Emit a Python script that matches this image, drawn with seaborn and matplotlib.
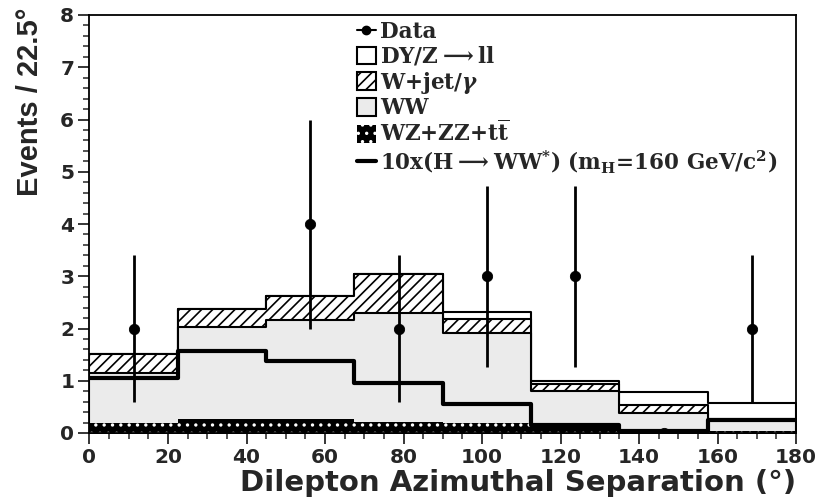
import numpy as np
import pandas as pd
import matplotlib
matplotlib.use("Agg")
import matplotlib.pyplot as plt
from matplotlib.lines import Line2D
from matplotlib.patches import Patch
from matplotlib.ticker import MultipleLocator
from matplotlib.font_manager import FontProperties
import seaborn as sns

# Binning: 8 bins of 22.5 degrees
bin_edges = [0, 22.5, 45, 67.5, 90, 112.5, 135, 157.5, 180]

# Expected events per bin for each background process
wz_zz_tt = [0.19, 0.26, 0.26, 0.22, 0.19, 0.16, 0.05, 0.03]
ww = [0.95, 1.76, 1.91, 2.08, 1.72, 0.65, 0.34, 0.21]
wjet_gamma = [0.37, 0.35, 0.45, 0.74, 0.27, 0.13, 0.15, 0.02]
dy_zll = [0.00, 0.00, 0.00, 0.00, 0.14, 0.06, 0.24, 0.32]

# Higgs signal (scaled by 10)
higgs_x10 = [1.05, 1.57, 1.38, 0.96, 0.55, 0.16, 0.03, 0.25]

# Observed counts
data_counts = [2, 0, 4, 2, 3, 3, 0, 2]

sns.set_style("ticks")
plt.rcParams["font.family"] = ["DejaVu Sans"]
plt.rcParams["mathtext.fontset"] = "custom"
plt.rcParams["mathtext.rm"] = "DejaVu Serif:bold"
plt.rcParams["mathtext.it"] = "DejaVu Serif:italic:bold"
plt.rcParams["mathtext.bf"] = "DejaVu Serif:bold"
plt.rcParams["hatch.linewidth"] = 1.2

edges = np.array(bin_edges)
centers = 0.5 * (edges[:-1] + edges[1:])

# Stacked totals, bottom to top
df = pd.DataFrame({"center": centers})
df["wz"] = np.array(wz_zz_tt)
df["ww"] = df["wz"] + np.array(ww)
df["wjet"] = df["ww"] + np.array(wjet_gamma)
df["dy"] = df["wjet"] + np.array(dy_zll)
df["higgs"] = np.array(higgs_x10)
df["data"] = np.array(data_counts, dtype=float)

fig, ax = plt.subplots(figsize=(8.31, 5.0), dpi=100)
fig.subplots_adjust(left=0.1077, right=0.958, bottom=0.134, top=0.97)

ww_grey = "#ebebeb"
common = dict(data=df, x="center", bins=list(bin_edges), element="step",
              fill=True, alpha=1, ax=ax)

sns.histplot(weights="dy", facecolor="white", edgecolor="black",
             linewidth=1.5, **common)
sns.histplot(weights="wjet", facecolor="white", edgecolor="black",
             linewidth=1.5, hatch="///", **common)
sns.histplot(weights="ww", facecolor=ww_grey, edgecolor="black",
             linewidth=1.5, **common)
sns.histplot(weights="wz", facecolor="black", edgecolor="white",
             linewidth=0, hatch="..", **common)

# Signal line
sns.histplot(data=df, x="center", weights="higgs", bins=list(bin_edges),
             element="step", fill=False, color="black", linewidth=3, ax=ax)

# Data with Poisson errors
ax.errorbar(df["center"], df["data"], yerr=np.sqrt(df["data"]), fmt="none",
            ecolor="black", elinewidth=2, capsize=0, zorder=6)
sns.scatterplot(data=df, x="center", y="data", color="black", s=55,
                edgecolor="black", zorder=7, ax=ax, legend=False)

ax.set_xlim(0, 180)
ax.set_ylim(0, 8)
ax.xaxis.set_major_locator(MultipleLocator(20))
ax.xaxis.set_minor_locator(MultipleLocator(5))
ax.yaxis.set_major_locator(MultipleLocator(1))
ax.yaxis.set_minor_locator(MultipleLocator(0.2))
ax.tick_params(which="major", direction="out", length=8, width=1.3,
               labelsize=14.5, pad=3)
ax.tick_params(which="minor", direction="out", length=4, width=1.1)
for lab in ax.get_xticklabels() + ax.get_yticklabels():
    lab.set_fontweight("bold")
for sp in ax.spines.values():
    sp.set_visible(True)
    sp.set_linewidth(1.3)
    sp.set_color("black")

ax.set_xlabel("Dilepton Azimuthal Separation (°)", fontsize=21,
              fontweight="bold", loc="right", labelpad=1)
ax.set_ylabel("Events / 22.5°", fontsize=21, fontweight="bold", loc="top",
              family=["Liberation Sans", "DejaVu Sans"])
ax.yaxis.set_label_coords(-0.064, 1.017)

handles = [
    Line2D([], [], color="black", marker="o", markersize=6, linewidth=1.5),
    Patch(facecolor="white", edgecolor="black", linewidth=1.5),
    Patch(facecolor="white", edgecolor="black", linewidth=1.5, hatch="///"),
    Patch(facecolor=ww_grey, edgecolor="black", linewidth=1.5),
    Patch(facecolor="black", edgecolor="white", linewidth=0, hatch=".."),
    Line2D([], [], color="black", linewidth=3),
]
labels = [
    r"Data",
    r"DY/Z$\longrightarrow$ll",
    r"W+jet/$\gamma$",
    r"WW",
    r"WZ+ZZ+t$\overline{\mathrm{t}}$",
    r"10x(H$\longrightarrow$WW$^{*}$) (m$_{\mathrm{H}}$=160 GeV/c$^{2}$)",
]
ax.legend(handles, labels, loc="upper left", bbox_to_anchor=(0.36, 1.016),
          frameon=False,
          prop=FontProperties(family="DejaVu Serif", weight="bold", size=15.5),
          handlelength=0.9, handleheight=0.9, labelspacing=0.08,
          handletextpad=0.2, borderaxespad=0.2)

fig.savefig("out.png", dpi=100)
